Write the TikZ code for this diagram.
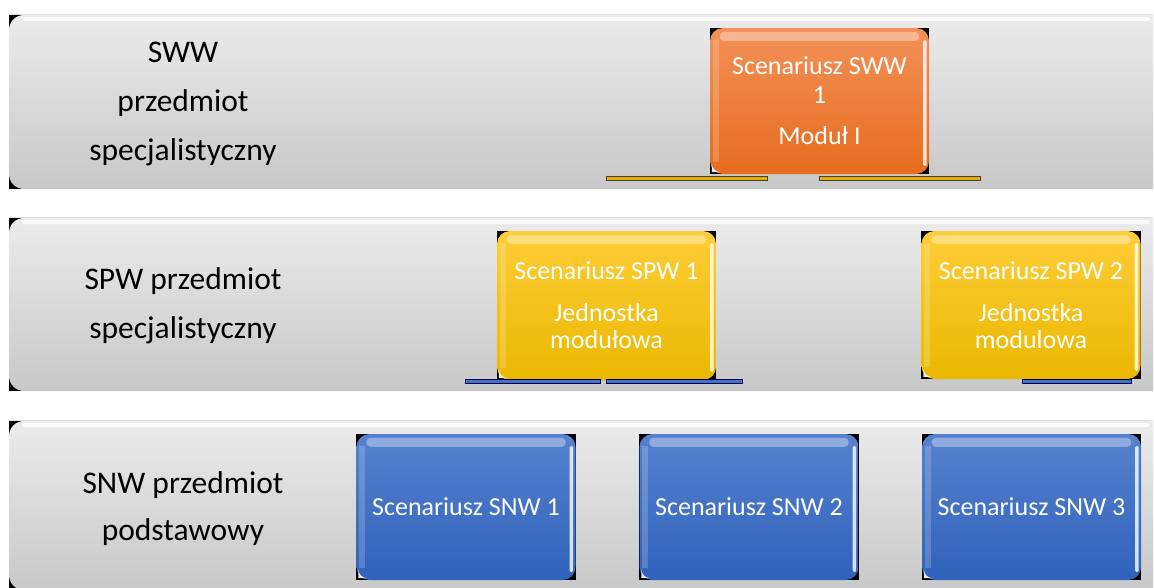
\documentclass[tikz,border=0pt]{standalone}
\usepackage{fontspec}
\setmainfont{Carlito}
\usetikzlibrary{backgrounds}

\definecolor{bandTop}{RGB}{235,235,235}
\definecolor{bandBot}{RGB}{200,200,200}
\definecolor{orTop}{RGB}{243,145,88}
\definecolor{orBot}{RGB}{230,108,30}
\definecolor{yeTop}{RGB}{255,205,55}
\definecolor{yeBot}{RGB}{234,184,0}
\definecolor{blTop}{RGB}{86,130,206}
\definecolor{blBot}{RGB}{48,98,188}
\definecolor{barGold}{RGB}{232,172,0}
\definecolor{barBlue}{RGB}{68,114,196}

\tikzset{
  bandlabel/.style={align=center, text=black, inner sep=0pt},
  tile/.style={rectangle, rounded corners=13pt, minimum width=219pt,
    align=center, text=white, inner sep=0pt, draw=none},
  orangetile/.style={tile, top color=orTop, bottom color=orBot},
  yellowtile/.style={tile, top color=yeTop, bottom color=yeBot},
  bluetile/.style={tile, top color=blTop, bottom color=blBot},
  goldbar/.style={fill=barGold, draw=black!75, line width=0.8pt},
  bluebar/.style={fill=barBlue, draw=black!70!blue, line width=0.8pt},
}

% glossy highlights on a tile
\newcommand\shine[1]{%
  \fill[white, opacity=.35, rounded corners=4pt]
    ([xshift=10pt,yshift=-4pt]#1.north west) rectangle ([xshift=-10pt,yshift=-13pt]#1.north east);
  \fill[white, opacity=.8, rounded corners=1.5pt]
    ([xshift=-6pt,yshift=-12pt]#1.north east) rectangle ([xshift=-2.5pt,yshift=8pt]#1.south east);
  \fill[white, opacity=.18]
    ([xshift=3pt,yshift=-12pt]#1.north west) rectangle ([xshift=9pt,yshift=12pt]#1.south west);
  \fill[white, opacity=.9]
    ([xshift=2pt,yshift=2pt]#1.south west) -- ++(0,9pt) arc[start angle=180,end angle=270,radius=9pt] -- cycle;
}

% black backing behind the rounded corners of a tile
\newcommand\backing[1]{%
  \fill[black] (#1.north west) rectangle (#1.south east);
}

% one grey band: top y, bottom y
\newcommand\band[2]{%
  \fill[black] (9,#1) rectangle (1153,#2);
  \begin{scope}
    \clip (0,0) rectangle (1153,587);
    \shade[top color=bandTop, bottom color=bandBot, rounded corners=15pt]
      (9,#1) rectangle (1190,#2);
    \fill[white, opacity=.85, rounded corners=3pt] (22,{#1+2}) rectangle (1150,{#1+6});
  \end{scope}
  \fill[black!12] (9,{#1-1}) -- (1153,{#1-1}) -- (1153,#1) -- (9,#1) -- cycle;
}

\begin{document}
\begin{tikzpicture}[x=1pt,y=-1pt]
\useasboundingbox (0,0) rectangle (1154,587);

\begin{scope}[on background layer]
  \fill[white] (0,0) rectangle (1154,587);
  \band{15}{189}
  \band{218}{391}
  \band{421}{590}
\end{scope}

% row labels
\node[bandlabel, font=\fontsize{31.5}{49}\selectfont] (lab1) at (183,104)
  {SWW\\przedmiot\\specjalistyczny};
\node[bandlabel, font=\fontsize{31.5}{49}\selectfont] (lab2) at (183,306)
  {SPW przedmiot\\specjalistyczny};
\node[bandlabel, font=\fontsize{31.5}{47}\selectfont] (lab3) at (183,509)
  {SNW przedmiot\\podstawowy};

% tiles
\node[orangetile, minimum height=146pt, font=\fontsize{26}{29}\selectfont] (sww1) at (819.5,101)
  {Scenariusz SWW\\1\\[12pt]Moduł I};
\node[yellowtile, minimum height=149pt, font=\fontsize{26}{27}\selectfont] (spw1) at (606.5,305.5)
  {Scenariusz SPW 1\\[15pt]Jednostka\\modułowa};
\node[yellowtile, minimum height=148pt, font=\fontsize{26}{27}\selectfont] (spw2) at (1031,305)
  {Scenariusz SPW 2\\[15pt]Jednostka\\modulowa};
\node[bluetile, minimum height=146pt, font=\fontsize{26}{28}\selectfont] (snw1) at (466,507)
  {Scenariusz SNW 1};
\node[bluetile, minimum height=146pt, font=\fontsize{26}{28}\selectfont] (snw2) at (749,507)
  {Scenariusz SNW 2};
\node[bluetile, minimum height=146pt, font=\fontsize{26}{28}\selectfont] (snw3) at (1031.5,507)
  {Scenariusz SNW 3};

\begin{scope}[on background layer]
  \foreach \t in {sww1,spw1,spw2,snw1,snw2,snw3} {\backing{\t}}
\end{scope}
\foreach \t in {sww1,spw1,spw2,snw1,snw2,snw3} {\shine{\t}}

% bars under the tiles
\filldraw[goldbar] (606,176) rectangle (767,180);
\filldraw[goldbar] (819,176) rectangle (980,180);
\filldraw[bluebar] (465,379) rectangle (600,383);
\filldraw[bluebar] (606,379) rectangle (742,383);
\filldraw[bluebar] (1022,379) rectangle (1131,383);
\end{tikzpicture}
\end{document}
